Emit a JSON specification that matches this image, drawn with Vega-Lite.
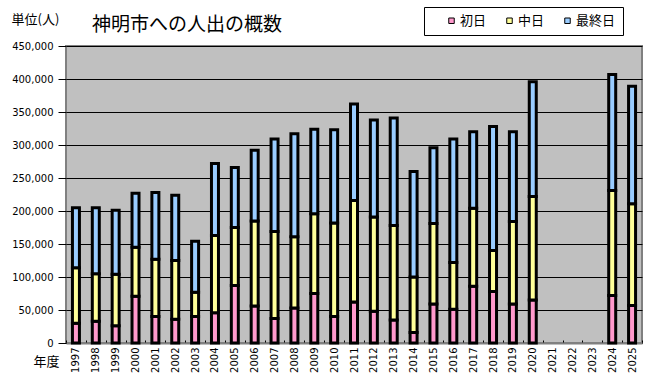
{
  "$schema": "https://vega.github.io/schema/vega-lite/v6.json",
  "width": 576,
  "height": 297,
  "autosize": {"type": "none"},
  "padding": {"left": 66, "top": 46, "right": 8, "bottom": 37},
  "background": "white",
  "title": {
    "text": "神明市への人出の概数",
    "anchor": "start",
    "frame": "group",
    "dx": 26,
    "offset": -28,
    "font": "Noto Sans CJK JP",
    "fontSize": 19,
    "fontWeight": "normal",
    "color": "black"
  },
  "data": {
    "values": [
      {"year": "1997", "period": "初日", "count": 30000}, {"year": "1997", "period": "中日", "count": 84000}, {"year": "1997", "period": "最終日", "count": 91000},
      {"year": "1998", "period": "初日", "count": 33000}, {"year": "1998", "period": "中日", "count": 72000}, {"year": "1998", "period": "最終日", "count": 100000},
      {"year": "1999", "period": "初日", "count": 26000}, {"year": "1999", "period": "中日", "count": 78000}, {"year": "1999", "period": "最終日", "count": 97000},
      {"year": "2000", "period": "初日", "count": 71000}, {"year": "2000", "period": "中日", "count": 74000}, {"year": "2000", "period": "最終日", "count": 82000},
      {"year": "2001", "period": "初日", "count": 40000}, {"year": "2001", "period": "中日", "count": 87000}, {"year": "2001", "period": "最終日", "count": 101000},
      {"year": "2002", "period": "初日", "count": 36000}, {"year": "2002", "period": "中日", "count": 89000}, {"year": "2002", "period": "最終日", "count": 99000},
      {"year": "2003", "period": "初日", "count": 40000}, {"year": "2003", "period": "中日", "count": 37000}, {"year": "2003", "period": "最終日", "count": 77000},
      {"year": "2004", "period": "初日", "count": 46000}, {"year": "2004", "period": "中日", "count": 117000}, {"year": "2004", "period": "最終日", "count": 109000},
      {"year": "2005", "period": "初日", "count": 87000}, {"year": "2005", "period": "中日", "count": 88000}, {"year": "2005", "period": "最終日", "count": 91000},
      {"year": "2006", "period": "初日", "count": 56000}, {"year": "2006", "period": "中日", "count": 129000}, {"year": "2006", "period": "最終日", "count": 107000},
      {"year": "2007", "period": "初日", "count": 37000}, {"year": "2007", "period": "中日", "count": 132000}, {"year": "2007", "period": "最終日", "count": 140000},
      {"year": "2008", "period": "初日", "count": 53000}, {"year": "2008", "period": "中日", "count": 108000}, {"year": "2008", "period": "最終日", "count": 156000},
      {"year": "2009", "period": "初日", "count": 75000}, {"year": "2009", "period": "中日", "count": 121000}, {"year": "2009", "period": "最終日", "count": 128000},
      {"year": "2010", "period": "初日", "count": 40000}, {"year": "2010", "period": "中日", "count": 142000}, {"year": "2010", "period": "最終日", "count": 141000},
      {"year": "2011", "period": "初日", "count": 62000}, {"year": "2011", "period": "中日", "count": 154000}, {"year": "2011", "period": "最終日", "count": 146000},
      {"year": "2012", "period": "初日", "count": 48000}, {"year": "2012", "period": "中日", "count": 143000}, {"year": "2012", "period": "最終日", "count": 147000},
      {"year": "2013", "period": "初日", "count": 35000}, {"year": "2013", "period": "中日", "count": 143000}, {"year": "2013", "period": "最終日", "count": 163000},
      {"year": "2014", "period": "初日", "count": 16000}, {"year": "2014", "period": "中日", "count": 84000}, {"year": "2014", "period": "最終日", "count": 160000},
      {"year": "2015", "period": "初日", "count": 59000}, {"year": "2015", "period": "中日", "count": 122000}, {"year": "2015", "period": "最終日", "count": 115000},
      {"year": "2016", "period": "初日", "count": 51000}, {"year": "2016", "period": "中日", "count": 71000}, {"year": "2016", "period": "最終日", "count": 187000},
      {"year": "2017", "period": "初日", "count": 86000}, {"year": "2017", "period": "中日", "count": 118000}, {"year": "2017", "period": "最終日", "count": 116000},
      {"year": "2018", "period": "初日", "count": 78000}, {"year": "2018", "period": "中日", "count": 62000}, {"year": "2018", "period": "最終日", "count": 188000},
      {"year": "2019", "period": "初日", "count": 59000}, {"year": "2019", "period": "中日", "count": 125000}, {"year": "2019", "period": "最終日", "count": 136000},
      {"year": "2020", "period": "初日", "count": 65000}, {"year": "2020", "period": "中日", "count": 157000}, {"year": "2020", "period": "最終日", "count": 174000},
      {"year": "2024", "period": "初日", "count": 72000}, {"year": "2024", "period": "中日", "count": 159000}, {"year": "2024", "period": "最終日", "count": 176000},
      {"year": "2025", "period": "初日", "count": 57000}, {"year": "2025", "period": "中日", "count": 154000}, {"year": "2025", "period": "最終日", "count": 178000}
    ]
  },
  "transform": [
    {"calculate": "indexof(['初日', '中日', '最終日'], datum.period)", "as": "stackOrder"}
  ],
  "mark": {"type": "bar", "size": 7, "stroke": "black", "strokeWidth": 3},
  "encoding": {
    "x": {
      "field": "year",
      "type": "ordinal",
      "scale": {
        "domain": ["1997","1998","1999","2000","2001","2002","2003","2004","2005","2006","2007","2008","2009","2010","2011","2012","2013","2014","2015","2016","2017","2018","2019","2020","2021","2022","2023","2024","2025"],
        "paddingInner": 0,
        "paddingOuter": 0
      },
      "axis": {
        "title": "年度",
        "titleAngle": 0,
        "titleX": -20,
        "titleY": 18,
        "titleAlign": "center",
        "titleBaseline": "middle",
        "titleFont": "Noto Sans CJK JP",
        "titleFontSize": 13,
        "titleFontWeight": "normal",
        "titleColor": "black",
        "labelAngle": -90,
        "labelAlign": "right",
        "labelBaseline": "middle",
        "labelFont": "DejaVu Sans",
        "labelFontSize": 10,
        "labelColor": "black",
        "labelPadding": 7,
        "tickBand": "extent",
        "tickSize": -3,
        "tickColor": "black",
        "domainColor": "#808080",
        "domainWidth": 2,
        "grid": false
      }
    },
    "y": {
      "field": "count",
      "type": "quantitative",
      "stack": "zero",
      "scale": {"domain": [0, 450000], "nice": false},
      "axis": {
        "values": [0, 50000, 100000, 150000, 200000, 250000, 300000, 350000, 400000, 450000],
        "format": ",d",
        "title": "単位(人)",
        "titleAngle": 0,
        "titleX": -55,
        "titleY": -27,
        "titleAlign": "left",
        "titleBaseline": "middle",
        "titleFont": "Noto Sans CJK JP",
        "titleFontSize": 13,
        "titleFontWeight": "normal",
        "titleColor": "black",
        "labelFont": "DejaVu Sans",
        "labelFontSize": 10,
        "labelColor": "black",
        "labelPadding": 5,
        "tickSize": 8,
        "tickColor": "black",
        "domain": false,
        "grid": true,
        "gridColor": "black",
        "gridWidth": 1,
        "gridOpacity": 1
      }
    },
    "color": {
      "field": "period",
      "type": "nominal",
      "scale": {"domain": ["初日", "中日", "最終日"], "range": ["#FF99CC", "#FFFF99", "#99CCFF"]},
      "legend": {
        "title": " ",
        "titleOrient": "left",
        "titlePadding": 14,
        "orient": "none",
        "legendX": 358,
        "legendY": -39,
        "direction": "horizontal",
        "strokeColor": "black",
        "fillColor": "white",
        "padding": 7,
        "columnPadding": 16,
        "symbolType": "square",
        "symbolSize": 30,
        "symbolStrokeColor": "black",
        "symbolStrokeWidth": 1,
        "symbolOpacity": 1,
        "labelFont": "Noto Sans CJK JP",
        "labelFontSize": 13,
        "labelColor": "black",
        "labelOffset": 2,
        "labelExpr": "datum.label == '最終日' ? '最終日  ' : datum.label"
      }
    },
    "order": {"field": "stackOrder", "type": "quantitative", "sort": "ascending"}
  },
  "config": {
    "view": {"fill": "#C0C0C0", "stroke": "#808080", "strokeWidth": 2}
  }
}
